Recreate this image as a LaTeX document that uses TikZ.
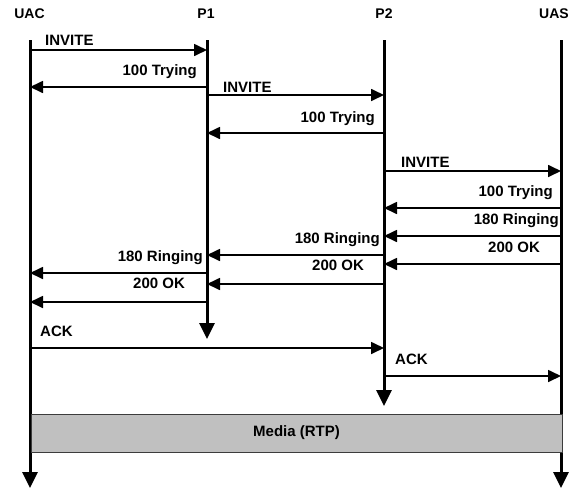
\documentclass[tikz,border=0pt]{standalone}
\usepackage{fontspec}
\setmainfont{Liberation Sans}
\usetikzlibrary{arrows.meta}
\definecolor{mediagray}{RGB}{192,192,192}
\definecolor{mediaedge}{RGB}{60,60,60}
\newcommand\sipmsg[3]{\coordinate (yy) at (0,#3); \draw[msg] (#1 |- yy) -- (#2 |- yy);}
\begin{document}
\begin{tikzpicture}[x=1pt,y=-1pt,
  hdr/.style={font=\fontsize{14}{16}\selectfont\bfseries, inner sep=0pt, anchor=base},
  lbl/.style={font=\fontsize{15}{17}\selectfont\bfseries, inner sep=0pt},
  life/.style={line width=3pt, -{Triangle[length=16pt,width=15pt]}},
  msg/.style={line width=1.7pt, -{Triangle[length=13pt,width=12pt]}},
  mediabox/.style={draw=mediaedge, line width=1pt, fill=mediagray, minimum width=531pt, minimum height=38pt, inner sep=0pt, font=\fontsize{15}{17}\selectfont\bfseries}]
\useasboundingbox (0,0) rectangle (586,488);
% headers
\node[hdr] (uac) at (29.5,18) {UAC};
\node[hdr] (p1) at (206,18) {P1};
\node[hdr] (p2) at (384,18) {P2};
\node[hdr] (uas) at (554,18) {UAS};
% lifelines
\coordinate (uacT) at (30,40);   \coordinate (uacB) at (30,488);
\coordinate (p1T) at (207,40);   \coordinate (p1B) at (207,339);
\coordinate (p2T) at (384,40);   \coordinate (p2B) at (384,406);
\coordinate (uasT) at (561,40);  \coordinate (uasB) at (561,488);
\draw[life] (uacT) -- (uacB);
\draw[life] (p1T) -- (p1B);
\draw[life] (p2T) -- (p2B);
\draw[life] (uasT) -- (uasB);
% messages
\sipmsg{uacT}{p1T}{50}
\node[lbl, anchor=base west] (l1) at (45,45) {INVITE};
\sipmsg{p1T}{uacT}{87}
\node[lbl, anchor=base east] (l2) at (197,75) {100 Trying};
\sipmsg{p1T}{p2T}{95}
\node[lbl, anchor=base west] (l3) at (223,92) {INVITE};
\sipmsg{p2T}{p1T}{133}
\node[lbl, anchor=base east] (l4) at (375,122) {100 Trying};
\sipmsg{p2T}{uasT}{171}
\node[lbl, anchor=base west] (l5) at (401,167) {INVITE};
\sipmsg{uasT}{p2T}{208}
\node[lbl, anchor=base east] (l6) at (553,196) {100 Trying};
\sipmsg{uasT}{p2T}{236}
\node[lbl, anchor=base east] (l7) at (559,224) {180 Ringing};
\sipmsg{p2T}{p1T}{255}
\node[lbl, anchor=base east] (l8) at (380,243) {180 Ringing};
\sipmsg{uasT}{p2T}{264}
\node[lbl, anchor=base west] (l9) at (488,252) {200 OK};
\sipmsg{p1T}{uacT}{273}
\node[lbl, anchor=base east] (l10) at (203,261) {180 Ringing};
\sipmsg{p2T}{p1T}{284}
\node[lbl, anchor=base west] (l11) at (312,270) {200 OK};
\sipmsg{p1T}{uacT}{302}
\node[lbl, anchor=base west] (l12) at (133,288) {200 OK};
\sipmsg{uacT}{p2T}{348}
\node[lbl, anchor=base west] (l13) at (40,336) {ACK};
\sipmsg{p2T}{uasT}{376}
\node[lbl, anchor=base west] (l14) at (395,364) {ACK};
% media
\node[mediabox] (media) at (296.5,433) {Media (RTP)};
\end{tikzpicture}
\end{document}
